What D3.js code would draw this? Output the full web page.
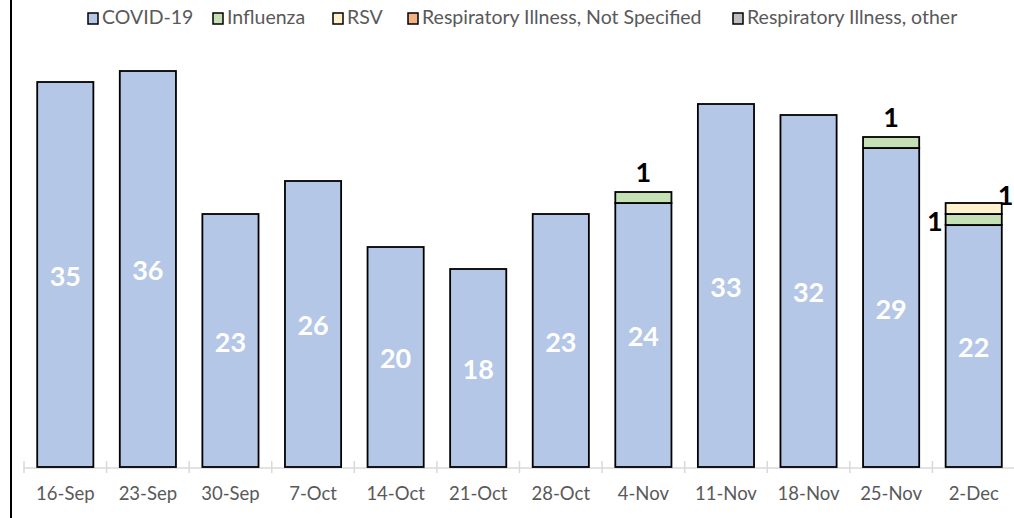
<!DOCTYPE html>
<html>
<head>
<meta charset="utf-8">
<script src="https://cdn.jsdelivr.net/npm/d3@7"></script>
<style>
  body { margin: 0; background: #fff; }
  text { font-family: Lato, "Open Sans", sans-serif; }
</style>
</head>
<body>
<svg width="1014" height="518"></svg>
<script>
const weeks = ["16-Sep", "23-Sep", "30-Sep", "7-Oct", "14-Oct", "21-Oct", "28-Oct", "4-Nov", "11-Nov", "18-Nov", "25-Nov", "2-Dec"];
const covid = [35, 36, 23, 26, 20, 18, 23, 24, 33, 32, 29, 22];
const influenza = [0, 0, 0, 0, 0, 0, 0, 1, 0, 0, 1, 1];
const rsv = [0, 0, 0, 0, 0, 0, 0, 0, 0, 0, 0, 1];
const notSpecified = [0, 0, 0, 0, 0, 0, 0, 0, 0, 0, 0, 0];
const otherIllness = [0, 0, 0, 0, 0, 0, 0, 0, 0, 0, 0, 0];
const seriesNames = ["COVID-19", "Influenza", "RSV", "Respiratory Illness, Not Specified", "Respiratory Illness, other"];
const seriesColors = ["#b4c7e7", "#c5e0b4", "#fff2cc", "#f4b183", "#bfbfbf"];

const svg = d3.select("svg");
const seriesValues = [covid, influenza, rsv, notSpecified, otherIllness];

// table for the stack
const table = weeks.map((w, i) => {
    const row = { week: w };
    seriesNames.forEach((s, j) => row[s] = seriesValues[j][i]);
    return row;
});
const stacked = d3.stack().keys(seriesNames)(table);

const x = d3.scaleBand().domain(weeks).range([24, 1015]).paddingInner(0.32).paddingOuter(0.16);
const y = d3.scaleLinear().domain([0, 40]).range([467, 27]);

// left frame line
svg.append("line").attr("x1", 11).attr("x2", 11).attr("y1", 0).attr("y2", 518)
    .attr("stroke", "#000").attr("stroke-width", 2);

// category axis
const half = x.step() * x.paddingInner() / 2;
svg.append("line").attr("x1", 24).attr("x2", 1015).attr("y1", y(0) + 1).attr("y2", y(0) + 1)
    .attr("stroke", "#d9d9d9").attr("stroke-width", 1.5);
const tickXs = weeks.map(w => x(w) - half).concat([x(weeks[weeks.length - 1]) + x.bandwidth() + half]);
svg.selectAll(".tick").data(tickXs).enter().append("line")
    .attr("x1", d => d).attr("x2", d => d).attr("y1", y(0) - 6).attr("y2", y(0) + 6)
    .attr("stroke", "#d9d9d9").attr("stroke-width", 1.5);
svg.selectAll(".xlab").data(weeks).enter().append("text")
    .attr("x", d => x(d) + x.bandwidth() / 2).attr("y", 500)
    .attr("text-anchor", "middle").attr("font-size", 18.5).attr("fill", "#595959")
    .text(d => d);

// bars
stacked.forEach((layer, j) => {
    svg.selectAll(".bar" + j).data(layer.filter(d => d[1] > d[0])).enter().append("rect")
        .attr("x", d => x(d.data.week))
        .attr("y", d => y(d[1]))
        .attr("width", x.bandwidth())
        .attr("height", d => y(d[0]) - y(d[1]))
        .attr("fill", seriesColors[j])
        .attr("stroke", "#000").attr("stroke-width", 1.8);
});

// covid labels
svg.selectAll(".clab").data(stacked[0]).enter().append("text")
    .attr("x", d => x(d.data.week) + x.bandwidth() / 2)
    .attr("y", d => (y(d[0]) + y(d[1])) / 2 + 11)
    .attr("text-anchor", "middle").attr("font-size", 27).attr("font-weight", "bold")
    .attr("fill", "#fff").text(d => d[1] - d[0]);

// small series labels: above the bar, or beside it when another segment sits on top
[1, 2].forEach(j => {
    stacked[j].forEach((d, i) => {
        if (d[1] <= d[0]) return;
        const multi = rsv[i] > 0;
        const cx = x(d.data.week) + x.bandwidth() / 2;
        let tx = cx, ty = y(d[1]) - 10, anchor = "middle";
        if (multi) {
            const mid = (y(d[0]) + y(d[1])) / 2;
            if (j === 1) { tx = x(d.data.week) - 3; anchor = "end"; ty = mid + 11; }
            else { tx = x(d.data.week) + x.bandwidth() - 4; anchor = "start"; ty = mid - 4; }
        }
        svg.append("text").attr("x", tx).attr("y", ty).attr("text-anchor", anchor)
            .attr("font-size", 27).attr("font-weight", "bold").attr("fill", "#000")
            .text(d[1] - d[0]);
    });
});

// legend
const legendX = [88, 213, 333, 408, 733];
const legend = svg.selectAll(".leg").data(seriesNames).enter().append("g")
    .attr("transform", (d, i) => `translate(${legendX[i]},13)`);
legend.append("rect").attr("width", 10).attr("height", 11)
    .attr("fill", (d, i) => seriesColors[i]).attr("stroke", "#000").attr("stroke-width", 1.5);
legend.append("text").attr("x", 14).attr("y", 11).attr("font-size", 19.5).attr("fill", "#595959")
    .text(d => d);
</script>
</body>
</html>
